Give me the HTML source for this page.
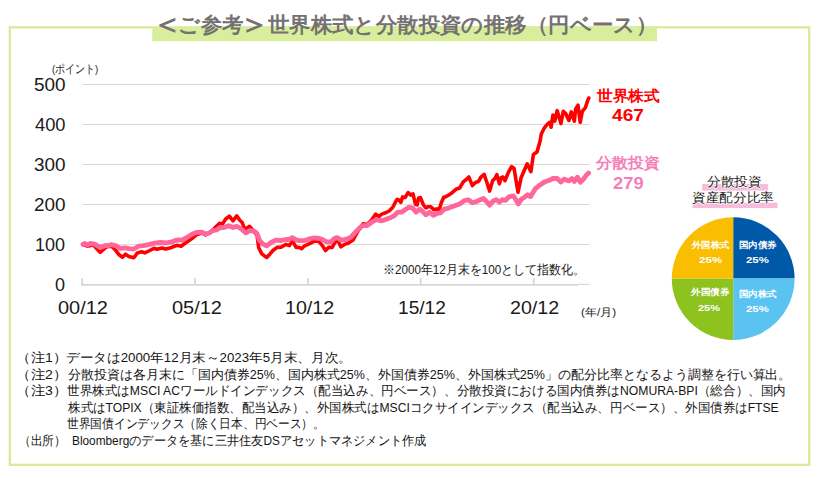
<!DOCTYPE html>
<html lang="ja">
<head>
<meta charset="utf-8">
<title>世界株式と分散投資の推移（円ベース）</title>
<style>
*{margin:0;padding:0;box-sizing:border-box}
html,body{width:817px;height:478px;overflow:hidden;background:#fff}
body{position:relative;font-family:"Liberation Sans",sans-serif;color:#1a1a1a}
.t{position:absolute;white-space:nowrap;line-height:1.2;transform-origin:0 50%}
svg{position:absolute;left:0;top:0}
.ab{display:inline-block;font-size:1.45em;line-height:0;width:.72em;text-indent:-.14em;position:relative;top:.075em}
</style>
</head>
<body>
<svg width="817" height="478" viewBox="0 0 817 478">
<rect x="9.85" y="27.3" width="799.3" height="437.5" fill="none" stroke="#d6ec98" stroke-width="2.3"/>
<rect x="152.2" y="27" width="504.9" height="14.3" fill="#d9ee9d"/>
<g stroke="#d9d9d9" stroke-width="1.2" fill="none">
<line x1="82" y1="84.5" x2="590" y2="84.5"/>
<line x1="82" y1="124.5" x2="590" y2="124.5"/>
<line x1="82" y1="164.5" x2="590" y2="164.5"/>
<line x1="82" y1="204.5" x2="590" y2="204.5"/>
<line x1="82" y1="244.5" x2="590" y2="244.5"/>
<line x1="578" y1="284.4" x2="590" y2="284.4"/>
</g>
<g stroke="#d6d6d6" stroke-width="1.8" fill="none">
<line x1="81.2" y1="284.8" x2="578" y2="284.8"/>
<path d="M82.1 278.2v6.6M194.9 278.2v6.6M307.9 278.2v6.6M420.7 278.2v6.6M533.7 278.2v6.6"/>
</g>
<polyline points="83.0,244.4 87.2,246.2 93.4,245.0 100.1,252.3 104.4,248.7 106.8,246.6 111.7,246.2 115.4,249.9 119.1,254.8 122.5,257.2 125.4,254.2 128.9,256.6 133.8,257.8 137.4,252.9 141.7,251.7 144.8,252.9 149.7,250.5 153.9,248.3 157.0,249.3 161.9,248.0 165.6,249.0 171.7,247.4 173.7,246.5 177.3,245.3 181.0,246.3 184.7,243.5 188.4,241.0 192.0,238.6 196.3,234.9 201.8,233.0 205.5,234.9 209.2,233.0 212.8,230.0 216.5,226.3 219.6,223.3 222.6,223.9 225.7,219.0 229.4,216.2 233.0,220.8 236.7,215.9 239.8,220.2 242.2,222.6 244.7,229.4 249.6,226.3 253.2,230.6 257.1,235.5 258.7,247.7 261.8,253.9 266.7,257.5 269.8,254.2 272.9,250.5 277.1,247.4 281.4,247.1 285.7,244.4 289.4,245.6 292.4,240.7 296.1,247.4 299.2,247.4 301.6,248.7 304.1,246.2 309.0,243.8 313.9,241.3 318.8,241.3 322.4,245.6 325.5,250.5 328.5,247.4 332.2,247.4 335.9,240.7 338.3,241.3 340.8,246.8 344.5,244.4 348.1,243.2 353.0,240.1 356.7,233.4 359.1,229.4 362.9,223.9 367.1,224.5 371.4,220.2 375.7,214.1 378.8,216.5 381.8,214.1 385.5,212.8 389.2,211.0 392.8,207.3 395.9,201.2 397.1,199.4 399.0,200.0 400.8,202.4 402.6,196.9 405.1,197.5 408.1,192.6 410.6,195.1 413.0,193.9 415.5,204.3 417.1,204.9 418.5,198.2 420.4,197.5 423.4,204.9 425.9,207.9 428.3,206.7 430.8,206.7 433.8,209.8 436.9,208.9 439.4,209.2 441.2,203.0 443.6,197.5 446.7,196.3 449.1,194.8 451.0,193.6 455.9,189.3 459.6,188.0 463.3,181.9 466.3,179.5 468.8,177.0 472.4,185.6 475.5,182.5 478.6,181.3 481.0,177.0 484.1,174.3 486.5,181.3 489.6,191.1 492.6,180.7 495.1,178.3 496.9,174.6 499.4,183.8 501.2,177.6 503.0,177.0 504.9,180.7 508.5,172.1 511.6,166.6 514.1,168.5 515.9,179.5 518.0,192.3 521.1,177.8 524.2,170.5 527.2,163.8 530.9,171.7 533.4,154.6 537.0,152.1 540.1,141.1 541.3,134.0 544.4,127.8 547.4,124.2 549.9,122.3 551.1,127.2 552.9,115.0 554.8,121.1 557.2,110.7 560.9,123.6 563.3,111.3 565.8,113.8 568.9,120.5 571.3,111.9 574.4,121.1 575.6,108.9 578.0,105.2 580.2,122.3 582.3,111.3 585.4,107.6 587.8,100.3 588.8,98.0" fill="none" stroke="#ff0000" stroke-width="3.6" stroke-linejoin="round" stroke-linecap="round"/>
<polyline points="83.0,244.4 84.8,243.4 87.2,245.0 90.3,243.4 94.6,244.1 100.1,247.4 105.6,245.4 108.0,245.8 111.1,244.7 115.4,245.6 120.3,248.3 125.2,247.8 128.9,248.7 133.8,249.0 138.6,246.2 143.5,245.6 148.4,244.7 154.6,243.2 160.7,242.5 166.8,242.9 172.9,241.7 174.9,240.6 178.6,239.8 182.2,240.1 187.1,237.3 192.0,234.3 196.3,232.4 201.8,232.1 205.5,234.0 209.2,233.0 212.8,230.6 216.5,230.0 220.2,227.5 223.9,227.5 228.8,225.7 233.0,227.5 236.7,226.3 241.0,228.8 245.9,233.0 249.6,230.6 254.5,231.2 257.1,233.7 259.4,240.4 263.0,244.1 266.7,245.9 271.0,242.5 275.9,240.1 280.8,240.5 285.7,239.5 289.4,239.5 292.4,237.6 295.5,239.5 299.2,240.7 304.1,240.7 309.0,238.9 313.9,238.0 318.8,238.3 322.4,239.5 326.7,241.9 331.0,241.9 334.7,238.3 337.1,237.6 340.8,240.1 345.7,239.5 350.6,237.6 355.5,232.1 359.1,228.5 362.2,225.7 367.1,225.7 372.0,222.0 376.3,219.6 380.6,220.8 385.5,219.6 390.4,217.7 394.1,215.9 397.7,212.2 401.4,212.2 405.1,209.8 408.8,207.3 412.4,207.9 416.1,212.2 419.8,209.2 422.8,211.6 425.9,214.7 429.6,212.2 433.2,215.3 436.9,213.5 440.6,212.8 444.2,209.2 447.9,208.4 449.8,207.6 454.7,205.8 459.6,204.0 463.9,200.9 468.2,199.7 472.4,202.7 476.7,201.5 480.4,199.7 483.5,198.5 486.5,201.5 489.6,205.2 493.2,200.9 496.3,199.7 499.4,202.1 502.4,199.7 505.5,200.3 509.2,196.6 513.4,196.0 515.9,199.7 518.3,204.0 521.4,199.1 524.5,197.2 527.5,194.8 530.6,196.6 535.2,188.9 539.5,185.2 544.4,182.1 549.3,180.3 552.9,178.5 557.2,178.5 560.9,182.1 564.0,179.1 568.9,180.9 571.9,178.5 574.4,181.5 577.4,177.2 580.5,182.1 583.5,179.1 586.6,174.8 588.6,173.0" fill="none" stroke="#ff6699" stroke-width="4.8" stroke-linejoin="round" stroke-linecap="round"/>
<path d="M733.2 278.6V217.3A61.4 61.4 0 0 1 794.6 278.6Z" fill="#0058a8"/>
<path d="M733.2 278.6H794.6A61.4 61.4 0 0 1 733.2 340Z" fill="#5bc3f1"/>
<path d="M733.2 278.6V340A61.4 61.4 0 0 1 671.8 278.6Z" fill="#8dc21f"/>
<path d="M733.2 278.6H671.8A61.4 61.4 0 0 1 733.2 217.3Z" fill="#f9be00"/>
<rect x="702.2" y="184" width="66" height="6.6" fill="#f9bbdc"/>
<rect x="692.5" y="202.7" width="85.1" height="5.4" fill="#f9bbdc"/>
</svg>
<div class="t" id="title" style="left:155.61px;top:11.70px;font-size:21px;font-weight:bold;color:#767171;word-spacing:-4px;transform:scaleX(1.0194);"><span class="ab">＜</span>ご参考<span class="ab">＞</span> 世界株式と分散投資の推移（円ベース）</div>
<div class="t" id="pt" style="left:51.95px;top:63.20px;font-size:11.5px;transform:scaleX(0.8309);">(ポイント)</div>
<div class="t" id="y5" style="left:33.95px;top:74.50px;font-size:18px;transform:scaleX(1.0503);">500</div>
<div class="t" id="y4" style="left:35.00px;top:114.50px;font-size:18px;transform:scaleX(1.0153);">400</div>
<div class="t" id="y3" style="left:33.95px;top:154.50px;font-size:18px;transform:scaleX(1.0503);">300</div>
<div class="t" id="y2" style="left:33.95px;top:194.50px;font-size:18px;transform:scaleX(1.0503);">200</div>
<div class="t" id="y1" style="left:35.21px;top:234.50px;font-size:18px;transform:scaleX(1.0012);">100</div>
<div class="t" id="y0" style="left:54.89px;top:274.50px;font-size:18px;transform:scaleX(1.0027);">0</div>
<div class="t" id="x0" style="left:57.71px;top:297.50px;font-size:18px;transform:scaleX(1.1094);">00/12</div>
<div class="t" id="x1" style="left:171.62px;top:297.50px;font-size:18px;transform:scaleX(1.1094);">05/12</div>
<div class="t" id="x2" style="left:284.91px;top:297.50px;font-size:18px;transform:scaleX(1.0920);">10/12</div>
<div class="t" id="x3" style="left:398.12px;top:297.50px;font-size:18px;transform:scaleX(1.0615);">15/12</div>
<div class="t" id="x4" style="left:509.91px;top:297.50px;font-size:18px;transform:scaleX(1.0909);">20/12</div>
<div class="t" id="ym" style="left:581.18px;top:305.80px;font-size:10.7px;transform:scaleX(1.0958);">(年/月)</div>
<div class="t" id="kome" style="left:383.47px;top:263.30px;font-size:12.6px;transform:scaleX(0.9231);">※2000年12月末を100として指数化。</div>
<div class="t" id="l1n" style="left:596.59px;top:87.10px;font-size:15px;font-weight:bold;color:#ff0000;transform:scaleX(1.0480);">世界株式</div>
<div class="t" id="l1v" style="left:612.00px;top:106.25px;font-size:16.5px;font-weight:bold;color:#ff0000;transform:scaleX(1.1580);">467</div>
<div class="t" id="l2n" style="left:596.48px;top:154.40px;font-size:15px;font-weight:bold;color:#f57fb9;transform:scaleX(1.0583);">分散投資</div>
<div class="t" id="l2v" style="left:612.60px;top:173.90px;font-size:16.5px;font-weight:bold;color:#f57fb9;transform:scaleX(1.1131);">279</div>
<div class="t" id="pt1" style="left:706.70px;top:175.40px;font-size:12.5px;color:#222;text-shadow:0 0 1px #fff,1px 0 0 #fff,-1px 0 0 #fff,0 1px 0 #fff,0 -1px 0 #fff;transform:scaleX(1.0516);">分散投資</div>
<div class="t" id="pt2" style="left:692.48px;top:191.30px;font-size:12.5px;color:#222;text-shadow:0 0 1px #fff,1px 0 0 #fff,-1px 0 0 #fff,0 1px 0 #fff,0 -1px 0 #fff;transform:scaleX(1.0488);">資産配分比率</div>
<div class="t" id="p1n" style="left:691.81px;top:240.30px;font-size:8.8px;font-weight:bold;color:#fff;transform:scaleX(1.0353);">外国株式</div>
<div class="t" id="p1v" style="left:699.40px;top:254.25px;font-size:9.4px;font-weight:bold;color:#fff;transform:scaleX(1.2374);">25%</div>
<div class="t" id="p2n" style="left:739.46px;top:239.70px;font-size:8.8px;font-weight:bold;color:#fff;transform:scaleX(1.0494);">国内債券</div>
<div class="t" id="p2v" style="left:746.31px;top:254.00px;font-size:9.4px;font-weight:bold;color:#fff;transform:scaleX(1.2160);">25%</div>
<div class="t" id="p3n" style="left:691.00px;top:287.40px;font-size:8.8px;font-weight:bold;color:#fff;transform:scaleX(1.0662);">外国債券</div>
<div class="t" id="p3v" style="left:698.22px;top:302.45px;font-size:9.4px;font-weight:bold;color:#fff;transform:scaleX(1.1743);">25%</div>
<div class="t" id="p4n" style="left:739.48px;top:288.95px;font-size:8.8px;font-weight:bold;color:#fff;transform:scaleX(1.0458);">国内株式</div>
<div class="t" id="p4v" style="left:746.31px;top:302.85px;font-size:9.4px;font-weight:bold;color:#fff;transform:scaleX(1.2160);">25%</div>
<div class="t" id="n1a" style="left:16.23px;top:350.98px;font-size:12.6px;color:#141414;transform:scaleX(1.1156);">（注1）</div>
<div class="t" id="n1b" style="left:65.95px;top:350.98px;font-size:12.6px;color:#141414;transform:scaleX(1.0519);">データは2000年12月末～2023年5月末、月次。</div>
<div class="t" id="n2a" style="left:16.23px;top:367.50px;font-size:12.6px;color:#141414;transform:scaleX(1.1156);">（注2）</div>
<div class="t" id="n2b" style="left:67.60px;top:367.50px;font-size:12.6px;color:#141414;transform:scaleX(0.9981);">分散投資は各月末に「国内債券25%、国内株式25%、外国債券25%、外国株式25%」の配分比率となるよう調整を行い算出。</div>
<div class="t" id="n3a" style="left:16.23px;top:384.02px;font-size:12.6px;color:#141414;transform:scaleX(1.1156);">（注3）</div>
<div class="t" id="n3b" style="left:67.41px;top:384.02px;font-size:12.6px;color:#141414;transform:scaleX(0.9671);">世界株式はMSCI ACワールドインデックス（配当込み、円ベース）、分散投資における国内債券はNOMURA-BPI（総合）、国内</div>
<div class="t" id="n4b" style="left:67.52px;top:400.54px;font-size:12.6px;color:#141414;transform:scaleX(0.9626);">株式はTOPIX（東証株価指数、配当込み）、外国株式はMSCIコクサイインデックス（配当込み、円ベース）、外国債券はFTSE</div>
<div class="t" id="n5b" style="left:67.44px;top:417.06px;font-size:12.6px;color:#141414;transform:scaleX(0.9018);">世界国債インデックス（除く日本、円ベース）。</div>
<div class="t" id="n6a" style="left:19.00px;top:433.58px;font-size:12.6px;color:#141414;transform:scaleX(0.9033);">（出所）</div>
<div class="t" id="n6b" style="left:71.53px;top:433.58px;font-size:12.6px;color:#141414;transform:scaleX(0.9395);">Bloombergのデータを基に三井住友DSアセットマネジメント作成</div>
</body>
</html>
